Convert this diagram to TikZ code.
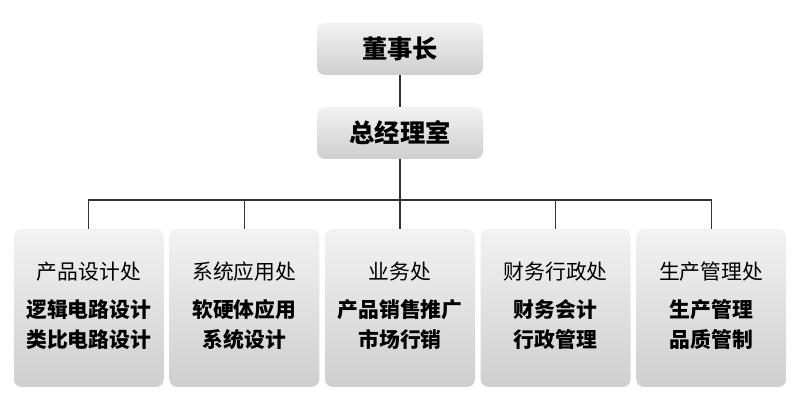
\documentclass[tikz,border=0pt]{standalone}
\usepackage{fontspec}
\setmainfont{Noto Sans CJK SC}
\usetikzlibrary{positioning}
\tikzset{
  orgbox/.style={rounded corners=0.2cm,top color=gray!10,bottom color=gray!38,
    draw=none,inner sep=0pt,align=center},
  headbox/.style={orgbox,minimum width=4.15cm,minimum height=1.3cm,
    font=\fontsize{18}{21}\selectfont\bfseries},
  deptbox/.style={orgbox,minimum width=3.75cm,minimum height=3.95cm,
    font=\fontsize{14.8}{21.3}\selectfont},
  orgline/.style={draw=black!80,line width=0.8pt}
}
\newcommand{\dept}[3]{#1\\[6pt]{\bfseries #2}\\{\bfseries #3}\rule[-5pt]{0pt}{0pt}}

\begin{document}
\begin{tikzpicture}
  \useasboundingbox (0,0) rectangle (20,-10);

  %top of the chart
  \node[headbox] (board) at (10,-1.225) {董事长};
  \node[headbox] (gm) at (10,-3.325) {总经理室};
  \coordinate (bus) at (10,-5);

  %departments
  \node[deptbox] (d1) at (2.22,-7.7) {\dept{产品设计处}{逻辑电路设计}{类比电路设计}};
  \node[deptbox] (d2) at (6.11,-7.7) {\dept{系统应用处}{软硬体应用}{系统设计}};
  \node[deptbox] (d3) at (10,-7.7) {\dept{业务处}{产品销售推广}{市场行销}};
  \node[deptbox] (d4) at (13.89,-7.7) {\dept{财务行政处}{财务会计}{行政管理}};
  \node[deptbox] (d5) at (17.78,-7.7) {\dept{生产管理处}{生产管理}{品质管制}};

  %connectors
  \draw[orgline] (board) -- (gm);
  \draw[orgline] (gm) -- (bus);
  \foreach \i in {1,...,5}
    \draw[orgline] (bus) -| (d\i.north);
\end{tikzpicture}
\end{document}
